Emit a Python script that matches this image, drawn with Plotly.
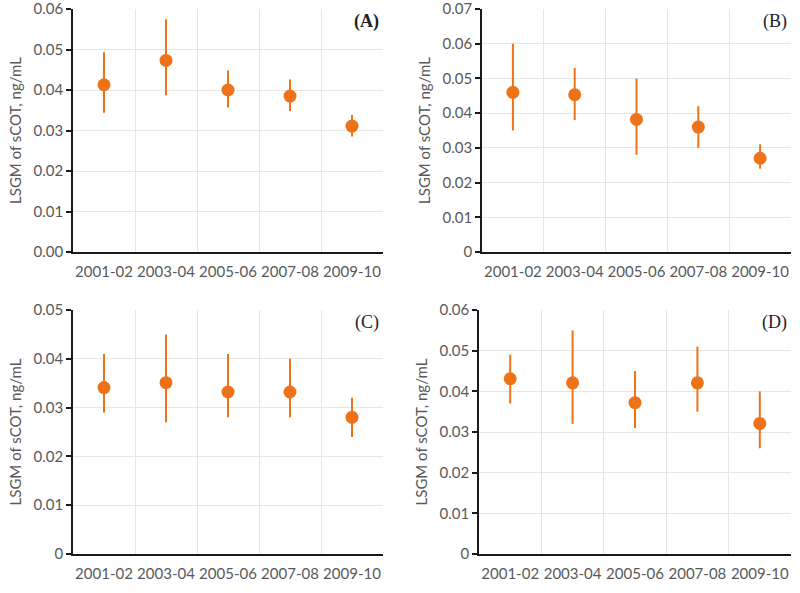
import plotly.graph_objects as go
from plotly.subplots import make_subplots

periods = ["2001-02", "2003-04", "2005-06", "2007-08", "2009-10"]

a_val = [0.0413, 0.0473, 0.0400, 0.0385, 0.0311]
a_hi = [0.0493, 0.0575, 0.0448, 0.0426, 0.0338]
a_lo = [0.0344, 0.0387, 0.0357, 0.0348, 0.0285]

b_val = [0.0460, 0.0453, 0.0382, 0.0360, 0.0270]
b_hi = [0.0600, 0.0530, 0.0500, 0.0420, 0.0310]
b_lo = [0.0350, 0.0380, 0.0280, 0.0300, 0.0240]

c_val = [0.0341, 0.0351, 0.0332, 0.0332, 0.0280]
c_hi = [0.0410, 0.0450, 0.0410, 0.0400, 0.0320]
c_lo = [0.0290, 0.0270, 0.0280, 0.0280, 0.0240]

d_val = [0.0431, 0.0421, 0.0372, 0.0421, 0.0321]
d_hi = [0.0490, 0.0550, 0.0450, 0.0510, 0.0400]
d_lo = [0.0370, 0.0320, 0.0310, 0.0350, 0.0260]

panels = [
    ("(A)", a_val, a_hi, a_lo, 0.06, "%.2f", True),
    ("(B)", b_val, b_hi, b_lo, 0.07, None, False),
    ("(C)", c_val, c_hi, c_lo, 0.05, None, False),
    ("(D)", d_val, d_hi, d_lo, 0.06, None, False),
]

W, H = 800, 593
# pixel boxes (left, right, top, bottom)
boxes = [(73, 383, 9, 252), (482, 791, 9, 252), (73, 383, 310, 554), (479, 791, 310, 554)]

ORANGE = "#EE7318"
GRAY = "#595959"
FONT = "Lato"

fig = make_subplots(rows=2, cols=2)

for i, (lab, val, hi, lo, ymax, fmt, bold) in enumerate(panels):
    r, c = i // 2 + 1, i % 2 + 1
    up = [h - v for h, v in zip(hi, val)]
    dn = [v - l for v, l in zip(val, lo)]
    fig.add_trace(go.Scatter(
        x=periods, y=val, mode="markers",
        marker=dict(color=ORANGE, size=13),
        error_y=dict(type="data", array=up, arrayminus=dn, symmetric=False,
                     color=ORANGE, thickness=2, width=0),
        showlegend=False), row=r, col=c)
    L, R, T, B = boxes[i]
    xd = [L / W, R / W]
    yd = [1 - B / H, 1 - T / H]
    n = int(round(ymax / 0.01))
    tv = [k * 0.01 for k in range(n + 1)]
    if fmt:
        tt = [fmt % v for v in tv]
    else:
        tt = ["0"] + ["%.2f" % v for v in tv[1:]]
    axn = "" if i == 0 else str(i + 1)
    fig.layout["xaxis" + axn].update(
        domain=xd, type="category", tickson="boundaries", ticks="",
        showgrid=True, gridcolor="#E6E6E6", gridwidth=1,
        showline=True, linecolor="#1a1a1a", linewidth=1.5,
        tickfont=dict(family=FONT, size=15, color=GRAY), tickangle=0,
        ticklabelstandoff=5, automargin=False,
        range=[-0.5, 4.5], fixedrange=True)
    fig.layout["yaxis" + axn].update(
        domain=yd, range=[0, ymax], tickvals=tv, ticktext=tt,
        showgrid=True, gridcolor="#E6E6E6", gridwidth=1,
        showline=True, linecolor="#1a1a1a", linewidth=1.5,
        ticks="outside", ticklen=5, tickcolor="#1a1a1a", tickwidth=1.5,
        tickfont=dict(family=FONT, size=15, color=GRAY),
        ticklabeloverflow="allow",
        zeroline=False, fixedrange=True, automargin=False,
        title=dict(text="LSGM of sCOT, ng/mL",
                   font=dict(family=FONT, size=15, color=GRAY), standoff=8))
    txt = "<b>%s</b>" % lab if bold else lab
    xr = ("x" + axn) if axn else "x"
    yr = ("y" + axn) if axn else "y"
    fig.add_annotation(text=txt, xref=xr + " domain", yref=yr + " domain",
                       x=1, y=0.95, xanchor="right", yanchor="middle",
                       xshift=-2, showarrow=False,
                       font=dict(family="Liberation Serif", size=18, color="#222222"))

fig.update_layout(width=W, height=H, margin=dict(l=0, r=0, t=0, b=0),
                  plot_bgcolor="white", paper_bgcolor="white")
fig.write_html("out.html", config={"displayModeBar": False},
               post_script="document.body.style.margin='0px';document.documentElement.style.overflow='hidden';")
